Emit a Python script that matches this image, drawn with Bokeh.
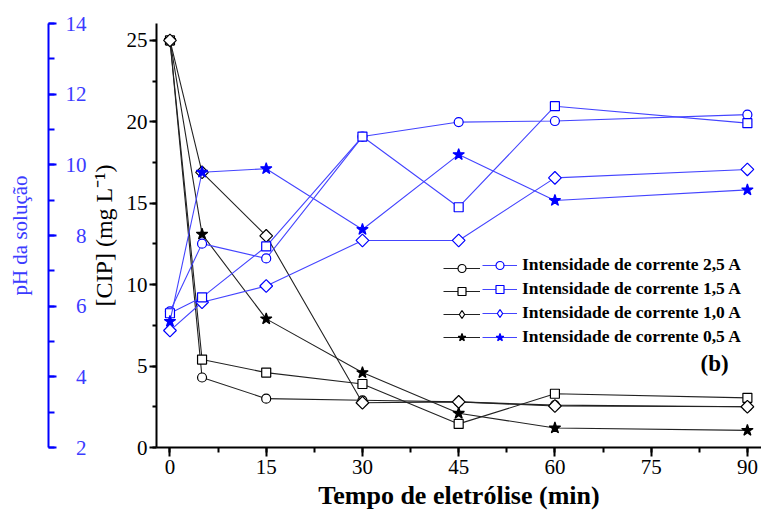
import math
from bokeh.plotting import figure
from bokeh.models import (Range1d, LinearAxis, SingleIntervalTicker, FixedTicker,
                          Legend, LegendItem, Label, ColumnDataSource)
from bokeh.embed import file_html
from bokeh.resources import INLINE

# ---------------- data ----------------
time_min = [0, 5, 15, 30, 45, 60, 90]
series_labels = ["Intensidade de corrente 2,5 A", "Intensidade de corrente 1,5 A",
                 "Intensidade de corrente 1,0 A", "Intensidade de corrente 0,5 A"]

# [CIP] (mg/L) - black series
cip_25 = [25, 4.3, 3.0, 2.9, 2.8, 2.6, 2.5]
cip_15 = [25, 5.4, 4.6, 3.9, 1.45, 3.3, 3.05]
cip_10 = [25, 16.9, 13.0, 2.75, 2.8, 2.55, 2.5]
cip_05 = [25, 13.1, 7.9, 4.6, 2.1, 1.2, 1.05]

# pH - blue series
ph_25 = [5.85, 7.77, 7.35, 10.8, 11.21, 11.24, 11.42]
ph_15 = [5.8, 6.25, 7.69, 10.8, 8.8, 11.66, 11.18]
ph_10 = [5.31, 6.11, 6.57, 7.86, 7.86, 9.63, 9.87]
ph_05 = [5.57, 9.79, 9.89, 8.17, 10.29, 8.99, 9.29]

FONT = "Liberation Serif"
BLUE = "#0000ff"
BLUE_LINE = "#4444ff"
BLUE_TXT = "#3b3bff"
BLACK_LINE = "#222222"

p = figure(width=761, height=517, x_range=Range1d(-2.1, 92.2), y_range=Range1d(0, 26.04),
           output_backend="svg", toolbar_location=None,
           min_border_left=156, min_border_right=0, min_border_top=23, min_border_bottom=70)
p.extra_y_ranges = {"ph": Range1d(2, 14)}
p.grid.visible = False
p.outline_line_color = None
p.background_fill_color = "white"
p.border_fill_color = "white"

# x axis
xa = p.xaxis[0]
xa.ticker = SingleIntervalTicker(interval=15, num_minor_ticks=2)
xa.axis_label = "Tempo de eletrólise (min)"
xa.axis_label_text_font = FONT
xa.axis_label_text_font_style = "bold"
xa.axis_label_text_font_size = "26px"
xa.axis_label_text_color = "black"
xa.axis_label_standoff = 4
xa.major_label_text_font = FONT
xa.major_label_text_font_size = "21px"
xa.major_label_text_color = "black"
xa.major_label_standoff = 3
xa.axis_line_width = 2
xa.major_tick_line_width = 2
xa.minor_tick_line_width = 2
xa.major_tick_out = 9
xa.major_tick_in = 0
xa.minor_tick_out = 5
xa.minor_tick_in = 0

# CIP axis (left, nearest)
ya = p.yaxis[0]
ya.ticker = SingleIntervalTicker(interval=5, num_minor_ticks=2)
ya.axis_label = "[CIP] (mg L⁻¹)"
ya.axis_label_text_font = FONT
ya.axis_label_text_font_style = "normal"
ya.axis_label_text_font_size = "24px"
ya.axis_label_text_color = "black"
ya.axis_label_standoff = 7
ya.major_label_text_font = FONT
ya.major_label_text_font_size = "21px"
ya.major_label_text_color = "black"
ya.major_label_standoff = 2
ya.axis_line_width = 2
ya.major_tick_line_width = 2
ya.minor_tick_line_width = 2
ya.major_tick_out = 7
ya.major_tick_in = 0
ya.minor_tick_out = 4
ya.minor_tick_in = 0

# spacer between the two left axes (one invisible white tick gives it its width)
spacer = LinearAxis(ticker=FixedTicker(ticks=[22.79], minor_ticks=[]), axis_line_color=None,
                    major_tick_out=39, major_tick_in=0, minor_tick_out=0, minor_tick_in=0,
                    major_tick_line_color="white", major_tick_line_width=1,
                    major_label_overrides={22.79: ""}, major_label_standoff=0)
p.add_layout(spacer, "left")

# pH axis (outer left), ticks and labels on the inner side
pa = LinearAxis(y_range_name="ph", ticker=SingleIntervalTicker(interval=2, num_minor_ticks=2))
pa.axis_label = "pH da solução"
pa.axis_label_text_font = FONT
pa.axis_label_text_font_style = "normal"
pa.axis_label_text_font_size = "21px"
pa.axis_label_text_color = BLUE_TXT
pa.axis_label_standoff = 31
pa.major_label_text_font = FONT
pa.major_label_text_font_size = "21px"
pa.major_label_text_color = BLUE_TXT
pa.major_label_standoff = -38
pa.axis_line_color = BLUE
pa.axis_line_width = 2
pa.major_tick_line_color = BLUE
pa.minor_tick_line_color = BLUE
pa.major_tick_line_width = 2
pa.minor_tick_line_width = 2
pa.major_tick_out = 0
pa.major_tick_in = 8
pa.minor_tick_out = 0
pa.minor_tick_in = 6
p.add_layout(pa, "left")

# ---------------- series ----------------
def series(y, marker, color, line_color, fill, size, y_range_name="default", angle=0.0):
    src = ColumnDataSource(dict(t=time_min, v=y))
    l = p.line("t", "v", source=src, line_color=line_color, line_width=1.1,
               y_range_name=y_range_name)
    s = p.scatter("t", "v", source=src, marker=marker, size=size, line_color=color,
                  fill_color=fill, line_width=1.2, angle=angle, y_range_name=y_range_name)
    return l, s

def legend_marker(marker, color, fill):
    # legend-only glyph (an undrawable NaN point) so the legend shows an upright diamond
    src = ColumnDataSource(dict(t=[float("nan")], v=[float("nan")]))
    return p.scatter("t", "v", source=src, marker=marker, size=10, line_color=color,
                     fill_color=fill, line_width=1.2)

DIAMOND_ANGLE = math.pi / 4
black = {}
black["05"] = series(cip_05, "star", "black", BLACK_LINE, "black", 12)
black["25"] = series(cip_25, "circle", "black", BLACK_LINE, "white", 9)
black["15"] = series(cip_15, "square", "black", BLACK_LINE, "white", 9)
black["10"] = series(cip_10, "square", "black", BLACK_LINE, "white", 9, angle=DIAMOND_ANGLE)

blue = {}
blue["25"] = series(ph_25, "circle", BLUE, BLUE_LINE, "white", 9, "ph")
blue["10"] = series(ph_10, "square", BLUE, BLUE_LINE, "white", 9, "ph", angle=DIAMOND_ANGLE)
blue["15"] = series(ph_15, "square", BLUE, BLUE_LINE, "white", 9, "ph")
blue["05"] = series(ph_05, "star", BLUE, BLUE_LINE, BLUE, 12, "ph")

black_leg = {k: list(v) for k, v in black.items()}
blue_leg = {k: list(v) for k, v in blue.items()}
black_leg["10"] = [black["10"][0], legend_marker("diamond", "black", "white")]
blue_leg["10"] = [blue["10"][0], legend_marker("diamond", BLUE, "white")]

order = ["25", "15", "10", "05"]

common = dict(glyph_height=20, label_height=20, spacing=3, padding=0, margin=0,
              border_line_color=None, background_fill_alpha=0,
              label_text_font=FONT, label_text_font_style="bold",
              label_text_font_size="17.5px", label_text_color="black")

leg_black = Legend(items=[LegendItem(label="", renderers=black_leg[k]) for k in order],
                   location=(287, 100), glyph_width=37, label_width=0, label_standoff=0,
                   **common)
leg_blue = Legend(items=[LegendItem(label=lab, renderers=blue_leg[k])
                         for k, lab in zip(order, series_labels)],
                  location=(326, 100), glyph_width=35, label_standoff=5, **common)
p.add_layout(leg_black, "center")
p.add_layout(leg_blue, "center")

p.add_layout(Label(x=544, y=84, x_units="screen", y_units="screen", text="(b)",
                   text_font=FONT, text_font_style="bold", text_font_size="23px",
                   text_baseline="middle", text_color="black"))

open("out.html", "w").write(file_html(p, INLINE))
